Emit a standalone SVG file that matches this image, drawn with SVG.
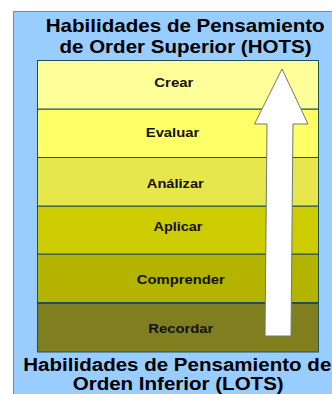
<svg xmlns="http://www.w3.org/2000/svg" width="332" height="394" viewBox="0 0 332 394">
<style>
.title{font-family:"Liberation Sans",Arial,sans-serif;font-weight:bold;font-size:18.5px;fill:#000;}
.bt{font-size:17.5px;}
.lbl{font-family:"Liberation Sans",Arial,sans-serif;font-weight:bold;font-size:13.5px;fill:#111;text-anchor:middle;}
.band{stroke:#1F4F5F;stroke-width:1;}
</style>
<rect width="332" height="394" fill="#ffffff"/>
<rect x="13.5" y="11.5" width="330" height="400" fill="#99CCFF" stroke="#7F8A95" stroke-width="1"/>
<text class="title" x="45.7" y="32" textLength="279" lengthAdjust="spacingAndGlyphs">Habilidades de Pensamiento</text>
<text class="title" x="59.5" y="53" textLength="252" lengthAdjust="spacingAndGlyphs">de Order Superior (HOTS)</text>
<g id="recordar"><rect class="band" x="37.5" y="303" width="281" height="49" fill="#7F7F20"/><text class="lbl" x="180.8" y="333.3" textLength="65" lengthAdjust="spacingAndGlyphs">Recordar</text></g>
<g id="comprender"><rect class="band" x="37.5" y="254" width="281" height="49" fill="#B3B300"/><text class="lbl" x="180.8" y="284" textLength="88" lengthAdjust="spacingAndGlyphs">Comprender</text></g>
<g id="aplicar"><rect class="band" x="37.5" y="206" width="281" height="48" fill="#CCCC00"/><text class="lbl" x="178" y="231" textLength="49" lengthAdjust="spacingAndGlyphs">Aplicar</text></g>
<g id="analizar"><rect class="band" x="37.5" y="157.5" width="281" height="48.5" fill="#E6E64D"/><text class="lbl" x="175.3" y="188.3" textLength="57" lengthAdjust="spacingAndGlyphs">Análizar</text></g>
<g id="evaluar"><rect class="band" x="37.5" y="109" width="281" height="48.5" fill="#FFFF66"/><text class="lbl" x="172.5" y="136.5" textLength="53.5" lengthAdjust="spacingAndGlyphs">Evaluar</text></g>
<g id="crear"><rect class="band" x="37.5" y="60.5" width="281" height="48.5" fill="#FFFF99"/><text class="lbl" x="173.8" y="87" textLength="39" lengthAdjust="spacingAndGlyphs">Crear</text></g>
<line x1="37.5" y1="303" x2="318.5" y2="303" stroke="#1F4F5F" stroke-width="2"/>
<g id="connectors">
<polygon id="arrow" points="282,69 308,124 293,124 291,336 265,336 267,124 254.5,124" fill="#ffffff" stroke="#6E7A70" stroke-width="1"/>
</g>
<text class="title bt" x="23.3" y="371" textLength="308" lengthAdjust="spacingAndGlyphs">Habilidades de Pensamiento de</text>
<text class="title bt" x="72.7" y="390" textLength="211" lengthAdjust="spacingAndGlyphs">Orden Inferior (LOTS)</text>
</svg>
